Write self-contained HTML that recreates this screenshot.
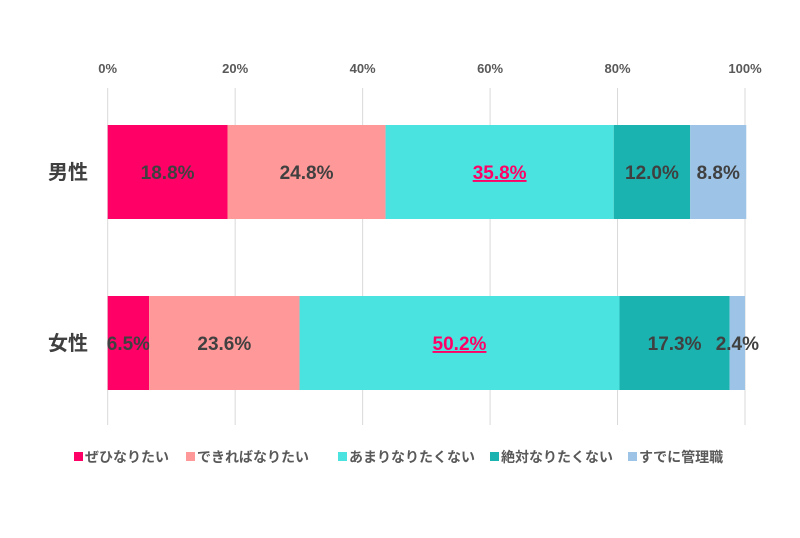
<!DOCTYPE html>
<html><head><meta charset="utf-8"><style>
body{margin:0;background:#fff;width:800px;height:533px;overflow:hidden;font-family:"Liberation Sans","Noto Sans CJK JP",sans-serif}
</style></head><body>
<svg id="chart" width="800" height="533" xmlns="http://www.w3.org/2000/svg" font-family="Liberation Sans, Noto Sans CJK JP, sans-serif"></svg>
<script>
const categories=["男性","女性"];
const seriesNames=["ぜひなりたい","できればなりたい","あまりなりたくない","絶対なりたくない","すでに管理職"];
const s1=[18.8,6.5];
const s2=[24.8,23.6];
const s3=[35.8,50.2];
const s4=[12.0,17.3];
const s5=[8.8,2.4];
const tickLabels=["0%","20%","40%","60%","80%","100%"];
const tickValues=[0,20,40,60,80,100];
const colors=["#FF0066","#FF9999","#4BE3DF","#1BB3B0","#9DC3E6"];
const series=[s1,s2,s3,s4,s5];
const svg=document.getElementById('chart');
const NS="http://www.w3.org/2000/svg";
const x0=107.7,x1=745;
function xs(v){return x0+(x1-x0)*v/100;}
const rowTop=[125,296],rowH=94;
function mk(t,a){const e=document.createElementNS(NS,t);for(const k in a)e.setAttribute(k,a[k]);svg.appendChild(e);return e;}
tickValues.forEach((v,i)=>{
 const g=mk('line',{x1:xs(v),x2:xs(v),y1:88,y2:425,stroke:'#d9d9d9','stroke-width':1});
 
 
 const t=mk('text',{x:xs(v),y:73,'text-anchor':'middle','font-size':13,fill:'#595959','font-weight':'bold'});
 t.textContent=tickLabels[i];
 
 
});
categories.forEach((c,ci)=>{
 const t=mk('text',{x:68,y:rowTop[ci]+rowH/2+7,'text-anchor':'middle','font-size':20,fill:'#404040','font-weight':'bold'});
 t.textContent=c;
 
 
 let acc=0;
 const maxV=Math.max(...series.map(s=>s[ci]));
 series.forEach((s,si)=>{
  const v=s[ci];
  const r=mk('rect',{x:xs(acc),y:rowTop[ci],width:xs(acc+v)-xs(acc),height:rowH,fill:colors[si]});
  
  
  const hl=v===maxV;
  const l=mk('text',{x:(xs(acc)+xs(acc+v))/2,y:rowTop[ci]+rowH/2+7,'text-anchor':'middle','font-size':19,'font-weight':'bold',fill:hl?'#FF0066':'#404040','text-decoration':hl?'underline':'none'});
  l.textContent=v.toFixed(1)+'%';
  
  
  acc+=v;
 });
});
let lx=74;
const widths=[112,152,152,138,0];
seriesNames.forEach((n,i)=>{
 const r=mk('rect',{x:lx,y:452,width:9,height:9,fill:colors[i]});
 
 
 const t=mk('text',{x:lx+11,y:462,'font-size':14,fill:'#595959','font-weight':'bold'});
 t.textContent=n;
 
 
 lx+=widths[i];
});
</script>
</body></html>
